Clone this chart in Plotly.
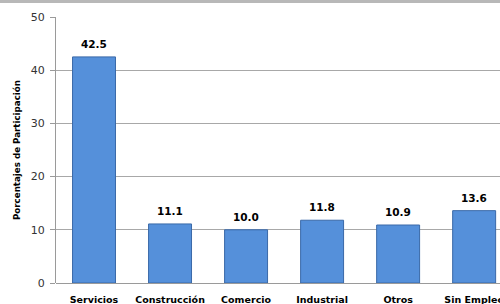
import plotly.graph_objects as go

categories = ["Servicios", "Construcción", "Comercio", "Industrial", "Otros", "Sin Empleo"]
values = [42.5, 11.1, 10.0, 11.8, 10.9, 13.6]
y_ticks = [0, 10, 20, 30, 40, 50]

PLOT_W = 444
PLOT_H = 266

fig = go.Figure()
fig.add_trace(go.Bar(
    x=categories, y=values,
    marker=dict(color="#5590DA", line=dict(color="#3A69A8", width=1)),
    width=0.565,
    hoverinfo="x+y",
))

for c, v in zip(categories, values):
    fig.add_annotation(x=c, y=v, text=f"<b>{v:.1f}</b>", showarrow=False,
                       yanchor="middle", yshift=13,
                       font=dict(family="DejaVu Sans", size=10.5, color="#000000"))

fig.add_annotation(xref="paper", yref="paper", x=-39 / PLOT_W, y=0.5,
                   text="<b>Porcentajes de Participación</b>", textangle=-90,
                   showarrow=False, xanchor="center", yanchor="middle",
                   font=dict(family="DejaVu Sans", size=8.7, color="#000000"))

fig.update_layout(
    width=500, height=304,
    margin=dict(l=56, r=0, t=17, b=21, autoexpand=False),
    paper_bgcolor="white", plot_bgcolor="white",
    showlegend=False,
    xaxis=dict(
        range=[-0.5, 5.34],
        showgrid=False,
        showline=False,
        automargin=False,
        tickfont=dict(family="DejaVu Sans", size=9.5, color="#000000"),
        tickprefix="<b>", ticksuffix="</b>",
        ticks="", ticklen=0,
        ticklabelstandoff=9,
    ),
    yaxis=dict(
        range=[0, 50],
        tickvals=y_ticks,
        automargin=False,
        showgrid=True, gridcolor="#A8A8A8", gridwidth=1,
        showline=True, linecolor="#9A9A9A", linewidth=1,
        zeroline=True, zerolinecolor="#9A9A9A", zerolinewidth=1,
        ticks="outside", ticklen=5, tickcolor="#9A9A9A",
        tickfont=dict(family="DejaVu Sans", size=11, color="#333333"),
        ticklabelstandoff=3,
    ),
)

fig.add_shape(type="rect", xref="paper", yref="paper",
              x0=-0.2, x1=1.1, y0=1.0 + 14 / PLOT_H, y1=1.0 + 17 / PLOT_H,
              fillcolor="#B8B8B8", line=dict(width=0), layer="above")

fig.write_html("out.html", config={"displayModeBar": False},
               post_script="document.body.style.margin='0';document.body.style.padding='0';")
